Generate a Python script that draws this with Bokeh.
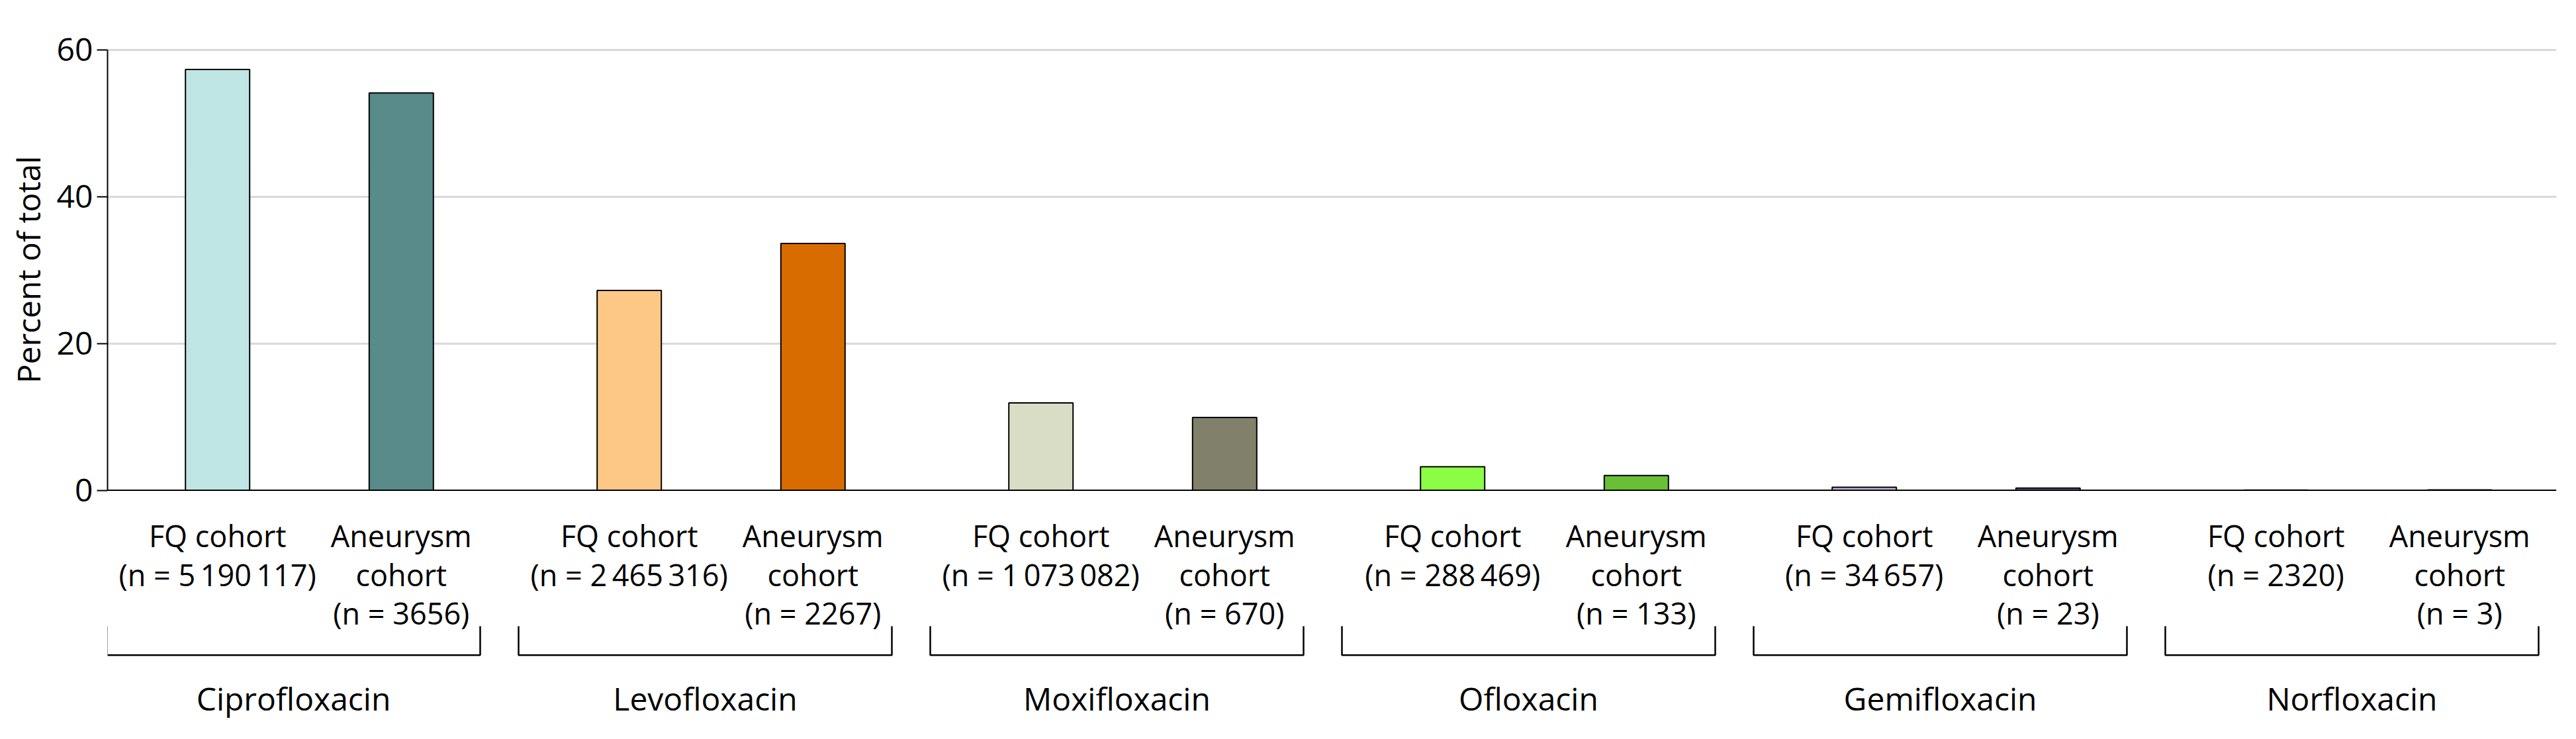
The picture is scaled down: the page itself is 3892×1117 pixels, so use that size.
from bokeh.plotting import figure
from bokeh.layouts import column
from bokeh.models import ColumnDataSource, Range1d, FixedTicker, Span
from bokeh.core.properties import value
from bokeh.embed import file_html
from bokeh.resources import INLINE

# ---------------- data ----------------
drugs = ["Ciprofloxacin", "Levofloxacin", "Moxifloxacin", "Ofloxacin", "Gemifloxacin", "Norfloxacin"]
fq_n = ["5\u2009190\u2009117", "2\u2009465\u2009316", "1\u2009073\u2009082", "288\u2009469", "34\u2009657", "2320"]
an_n = ["3656", "2267", "670", "133", "23", "3"]
fq_pct = [57.3, 27.2, 11.9, 3.2, 0.4, 0.03]
an_pct = [54.1, 33.6, 9.9, 2.0, 0.3, 0.04]
fq_colors = ["#BFE5E4", "#FDC785", "#DADDC5", "#8BFD45", "#C9B3D9", "#F5B7C7"]
an_colors = ["#588B89", "#D96C00", "#81806A", "#69BF35", "#7E5A9B", "#C0506E"]
y_ticks = [0, 20, 40, 60]

# ---------------- layout constants (pixels) ----------------
FONT = "Open Sans"
W = 3876
FRAME_BOTTOM = 744     # canvas px where the bar frame ends
PAD_BOTTOM = 32        # room for the "0" tick label
H_TOP = FRAME_BOTTOM + PAD_BOTTOM
H_BOT = 1100 - H_TOP
PITCH = 622.0          # px between groups
SUB = 277.6 / PITCH    # offset of 2nd bar in group units
BARW = 97.0 / PITCH
FRAME_L, FRAME_R = 162, 3862          # canvas px
FIRST_C = 328.2                        # canvas px of first bar centre
PXU = 11.1                             # px per percent
Y0 = 740.5                             # canvas px of y=0
FRAME_T = 70

x_range = Range1d(-(FIRST_C - FRAME_L) / PITCH, (FRAME_R - FIRST_C) / PITCH)

# ---------------- top: bars ----------------
p = figure(width=W, height=H_TOP, output_backend="svg", toolbar_location=None,
           x_range=x_range, y_range=Range1d(-(FRAME_BOTTOM - Y0) / PXU, (Y0 - FRAME_T) / PXU),
           x_axis_location=None, min_border_left=FRAME_L, min_border_right=W - FRAME_R,
           min_border_top=FRAME_T, min_border_bottom=PAD_BOTTOM)
p.outline_line_color = None
p.xgrid.visible = False

ax = p.yaxis[0]
ax.bounds = (0, 60)
ax.ticker = FixedTicker(ticks=y_ticks)
ax.minor_tick_line_color = None
ax.major_tick_in = 0
ax.major_tick_out = 16
ax.major_tick_line_width = 2
ax.major_tick_line_color = "black"
ax.axis_line_width = 2
ax.axis_line_color = "black"
ax.major_label_standoff = 6
ax.major_label_text_font = FONT
ax.major_label_text_font_size = "48px"
ax.major_label_text_color = "black"
ax.axis_label = "Percent of total"
ax.axis_label_text_font = FONT
ax.axis_label_text_font_size = "48px"
ax.axis_label_text_font_style = "normal"
ax.axis_label_text_color = "black"
ax.axis_label_standoff = 8

p.ygrid.ticker = FixedTicker(ticks=[t for t in y_ticks if t > 0])
p.ygrid.grid_line_color = "#D9D9D9"
p.ygrid.grid_line_width = 3

n = len(drugs)
gx = list(range(n))
bars = ColumnDataSource(dict(
    x=gx + [g + SUB for g in gx],
    top=fq_pct + an_pct,
    color=fq_colors + an_colors,
))
p.vbar(x="x", top="top", bottom=0, width=BARW, fill_color="color",
       line_color="black", line_width=2, source=bars)
p.add_layout(Span(location=0, dimension="width", line_color="black", line_width=2))

# ---------------- bottom: category labels & brackets (y in px from top) ----------------
q = figure(width=W, height=H_BOT, output_backend="svg", toolbar_location=None,
           x_range=x_range, y_range=Range1d(H_BOT, 0),
           x_axis_location=None, y_axis_location=None,
           min_border_left=FRAME_L, min_border_right=W - FRAME_R,
           min_border_top=0, min_border_bottom=0)
q.outline_line_color = None
q.grid.visible = False

def yb_(canvas_y):  # canvas px of whole page -> bottom figure px
    return canvas_y - H_TOP

tx, ty, tt = [], [], []
for g in gx:
    for i, line in enumerate(["FQ cohort", "(n = %s)" % fq_n[g]]):
        tx.append(g); ty.append(yb_(809 + 59 * i)); tt.append(line)
    for i, line in enumerate(["Aneurysm", "cohort", "(n = %s)" % an_n[g]]):
        tx.append(g + SUB); ty.append(yb_(809 + 58.5 * i)); tt.append(line)
q.text(x=tx, y=ty, text=tt, text_align="center", text_baseline="alphabetic",
       text_font=value(FONT), text_font_size=value("45px"), text_color="black")

BL = (336.2 - 169) / PITCH
BR = (733 - 336.2) / PITCH
yt, yb = yb_(946), yb_(989.7)
q.multi_line(xs=[[g - BL, g - BL, g + BR, g + BR] for g in gx],
             ys=[[yt, yb, yb, yt] for g in gx], line_color="black", line_width=2.5)

q.text(x=[g + (BR - BL) / 2 for g in gx], y=[yb_(1055)] * n, text=drugs,
       text_align="center", text_baseline="alphabetic",
       text_font=value(FONT), text_font_size=value("48px"), text_color="black")

layout = column(p, q, spacing=0)
open("out.html", "w").write(file_html(layout, INLINE))
